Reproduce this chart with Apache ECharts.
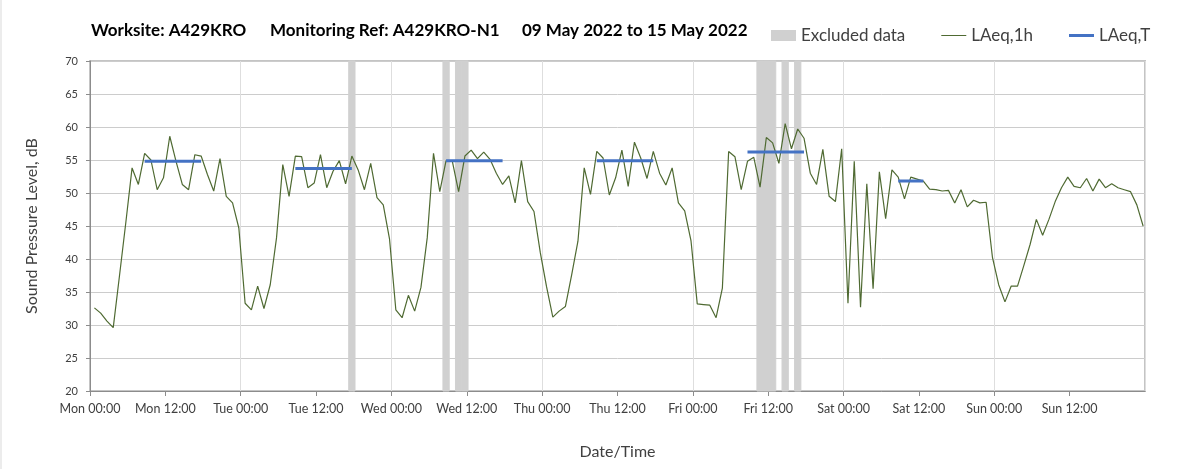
<!DOCTYPE html>
<html>
<head>
<meta charset="utf-8">
<script src="https://cdn.jsdelivr.net/npm/echarts@6/dist/echarts.min.js"></script>
<style>
  html, body { margin: 0; padding: 0; background: #fff; }
  #main { width: 1203px; height: 469px; }
</style>
</head>
<body>
<div id="main"></div>
<script>
// hourly LAeq,1h values, Mon 00:00 -> Sun 23:00
const laeq1h = [
  32.6, 31.8, 30.6, 29.6, 37.5, 45.5, 53.8, 51.3, 56.0, 55.0, 50.5, 52.3,
  58.6, 54.8, 51.3, 50.5, 55.8, 55.6, 52.8, 50.3, 55.2, 49.5, 48.5, 44.7,
  33.3, 32.3, 35.9, 32.5, 36.1, 43.2, 54.3, 49.5, 55.6, 55.5, 50.8, 51.5,
  55.8, 50.8, 53.3, 54.9, 51.4, 55.6, 53.5, 50.5, 54.5, 49.3, 48.2, 43.0,
  32.3, 31.1, 34.5, 32.1, 35.7, 43.2, 56.0, 50.2, 54.9, 54.8, 50.2, 55.6,
  56.5, 55.2, 56.2, 55.1, 53.0, 51.3, 52.6, 48.5, 54.9, 48.7, 47.2, 41.0,
  35.8, 31.2, 32.1, 32.8, 37.6, 42.7, 53.8, 49.8, 56.3, 55.3, 49.7, 52.3,
  56.5, 51.0, 57.7, 55.3, 52.2, 56.3, 53.0, 51.2, 53.8, 48.5, 47.3, 42.8,
  33.2, 33.1, 33.0, 31.1, 35.6, 56.3, 55.5, 50.5, 54.8, 55.4, 50.9, 58.4,
  57.6, 54.5, 60.5, 56.7, 59.7, 58.3, 53.0, 51.3, 56.6, 49.5, 48.7, 56.7,
  33.3, 54.8, 32.7, 51.4, 35.5, 53.2, 46.1, 53.5, 52.4, 49.1, 52.4, 52.1,
  51.8, 50.6, 50.5, 50.3, 50.4, 48.5, 50.5, 47.9, 48.9, 48.5, 48.6, 40.3,
  36.1, 33.5, 35.9, 35.9, 39.0, 42.2, 46.0, 43.6, 46.0, 48.7, 50.8, 52.4,
  51.0, 50.8, 52.2, 50.3, 52.1, 50.8, 51.4, 50.8, 50.5, 50.2, 48.2, 45.0
];

// LAeq,T periods (hour index from Mon 00:00)
const laeqTStart = [8, 32, 56, 80, 104, 128];
const laeqTEnd = [17, 41, 65, 89, 113, 132];
const laeqTLevel = [54.8, 53.7, 54.9, 54.9, 56.2, 51.8];

// excluded hours (hour index from Mon 00:00)
const excludedHours = [41, 56, 58, 59, 106, 107, 108, 110, 112];

const dayNames = ['Mon', 'Tue', 'Wed', 'Thu', 'Fri', 'Sat', 'Sun', 'Mon'];
const yMin = 20, yMax = 70;
const hourOffset = 0.7; // where Excel put each hourly point

const FONT = 'Lato, "Open Sans", sans-serif';
const txt = '#404040';
const green = '#4f6a32';
const blue = '#4472c4';
const grey = '#d0d0d0';

const chart = echarts.init(document.getElementById('main'), null, { renderer: 'canvas' });

const series = [
  {
    name: 'Excluded data',
    type: 'custom',
    itemStyle: { color: grey },
    data: excludedHours.map(h => [h, yMax]),
    encode: { x: 0, y: 1 },
    z: 1,
    renderItem: (params, api) => {
      const h = api.value(0) + hourOffset;
      const p0 = api.coord([h - 0.5, yMax]);
      const p1 = api.coord([h + 0.5, yMin]);
      return {
        type: 'rect',
        shape: { x: p0[0], y: p0[1], width: p1[0] - p0[0], height: p1[1] - p0[1] },
        // stroke closes the hairline seams between neighbouring hours
        style: { fill: grey, stroke: grey, lineWidth: 1 }
      };
    }
  },
  {
    name: 'LAeq,1h',
    type: 'line',
    symbol: 'none',
    z: 3,
    itemStyle: { color: green },
    lineStyle: { color: green, width: 1.2 },
    data: laeq1h.map((v, i) => [i + hourOffset, v])
  }
];

laeqTLevel.forEach((v, i) => {
  series.push({
    name: 'LAeq,T',
    type: 'line',
    symbol: 'none',
    z: 4,
    itemStyle: { color: blue },
    lineStyle: { color: blue, width: 3 },
    data: [[laeqTStart[i] + hourOffset, v], [laeqTEnd[i] + hourOffset, v]]
  });
});

chart.setOption({
  animation: false,
  backgroundColor: '#fff',
  textStyle: { fontFamily: FONT },
  graphic: [
    { type: 'line', shape: { x1: 1, y1: 0, x2: 1, y2: 469 }, style: { stroke: '#d9d9d9', lineWidth: 1 } },
    { type: 'text', left: 91, top: 22, style: { text: 'Worksite: A429KRO', font: 'bold 17px ' + FONT, fill: '#000' } },
    { type: 'text', left: 270, top: 22, style: { text: 'Monitoring Ref: A429KRO-N1', font: 'bold 17px ' + FONT, fill: '#000' } },
    { type: 'text', left: 522, top: 22, style: { text: '09 May 2022 to 15 May 2022', font: 'bold 17px ' + FONT, fill: '#000' } }
  ],
  legend: {
    left: 766,
    top: 22,
    itemWidth: 25,
    itemHeight: 11,
    itemGap: 36,
    textStyle: { fontSize: 17, color: txt, fontFamily: FONT },
    data: [
      { name: 'Excluded data', icon: 'rect' },
      { name: 'LAeq,1h', icon: 'path://M0,0H25V1H0Z' },
      { name: 'LAeq,T', icon: 'path://M0,0H25V3H0Z' }
    ]
  },
  grid: {
    left: 90, right: 58, top: 61, bottom: 78,
    show: true, borderColor: '#c4c4c4', borderWidth: 2
  },
  xAxis: [
    {
      type: 'value',
      min: 0, max: 168, interval: 12,
      name: 'Date/Time',
      nameLocation: 'middle',
      nameGap: 53,
      nameTextStyle: { fontSize: 16, color: txt },
      axisLine: { lineStyle: { color: '#8c8c8c' } },
      axisTick: { show: true, length: 5, lineStyle: { color: '#8c8c8c' } },
      axisLabel: {
        margin: 11, fontSize: 12.5, color: txt, showMaxLabel: false,
        formatter: v => dayNames[Math.floor(v / 24)] + (v % 24 ? ' 12:00' : ' 00:00')
      },
      splitLine: { show: false }
    },
    {
      type: 'value',
      min: 0, max: 168, interval: 24,
      position: 'top',
      axisLine: { show: false },
      axisTick: { show: false },
      axisLabel: { show: false },
      splitLine: { show: true, lineStyle: { color: '#dedede', width: 1 } }
    }
  ],
  yAxis: {
    type: 'value',
    min: yMin, max: yMax, interval: 5,
    name: 'Sound Pressure Level, dB',
    nameLocation: 'middle',
    nameGap: 50,
    nameTextStyle: { fontSize: 16, color: txt },
    axisLine: { show: true, lineStyle: { color: '#8c8c8c' } },
    axisTick: { show: true, length: 4, lineStyle: { color: '#8c8c8c' } },
    axisLabel: { margin: 12, fontSize: 11, color: txt },
    splitLine: { lineStyle: { color: '#cccccc' } }
  },
  series: series
});
</script>
</body>
</html>
